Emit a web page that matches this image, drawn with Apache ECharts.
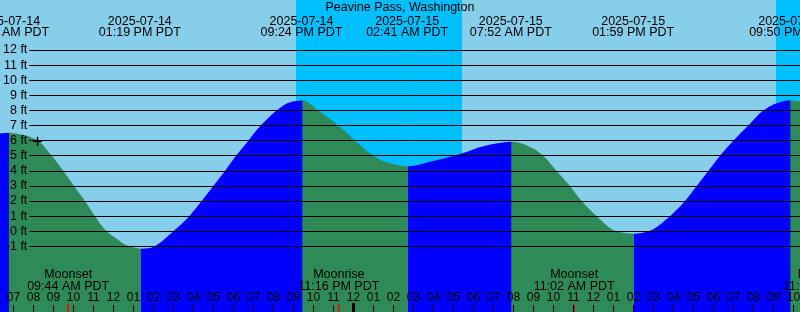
<!DOCTYPE html>
<html><head><meta charset="utf-8">
<script src="https://cdn.jsdelivr.net/npm/echarts@6/dist/echarts.min.js"></script>
<style>html,body{margin:0;padding:0;background:#87CEEB}#c{width:800px;height:312px}</style>
</head><body><div id="c"></div><script>
// Hours counted from 2025-07-14 00:00 PDT
const tideHours = [6.325, 6.775, 7.325, 8.175, 8.908, 9.492, 10.025, 10.575, 11.075, 11.658, 12.158, 12.658, 13.375, 13.825, 14.325, 14.992, 15.792, 16.408, 16.992, 17.575, 18.125, 18.742, 19.358, 20.158, 20.825, 21.458, 22.242, 23.242, 24.075, 24.992, 25.575, 26.325, 26.725, 27.825, 29.41, 30.49, 31.91, 32.99, 33.49, 34.16, 34.825, 35.41, 36.16, 37.16, 38.025, 38.74, 39.825, 40.575, 41.16, 41.74, 42.325, 42.99, 43.74, 44.49, 45.2, 45.86, 46.325];
const tideFeet = [6.48, 6.52, 6.42, 6.05, 5.0, 4.0, 3.0, 2.0, 1.0, 0.0, -0.5, -0.93, -1.15, -1.1, -0.75, 0.0, 1.0, 2.0, 3.0, 4.0, 5.0, 6.0, 7.0, 8.0, 8.55, 8.67, 8.0, 7.0, 6.0, 5.0, 4.6, 4.36, 4.3, 4.6, 5.16, 5.64, 5.93, 5.49, 5.0, 4.0, 3.0, 2.0, 1.0, 0.0, -0.17, 0.0, 1.0, 2.0, 3.0, 4.0, 5.0, 6.0, 7.0, 8.0, 8.5, 8.68, 8.6];

const eventHours = [6.733, 13.317, 21.4, 26.683, 31.867, 37.983, 45.833];
const eventDates = ['2025-07-14', '2025-07-14', '2025-07-14', '2025-07-15', '2025-07-15', '2025-07-15', '2025-07-15'];
const eventTimes = ['06:44 AM PDT', '01:19 PM PDT', '09:24 PM PDT', '02:41 AM PDT', '07:52 AM PDT', '01:59 PM PDT', '09:50 PM PDT'];

const moonHours = [9.733, 23.267, 35.033, 47.5];
const moonNames = ['Moonset', 'Moonrise', 'Moonset', 'Moonrise'];
const moonTimes = ['09:44 AM PDT', '11:16 PM PDT', '11:02 AM PDT', '11:30 PM PDT'];

const nightStart = [21.125, 45.125];
const nightEnd = [29.425, 48];

const hourTicks = [7,8,9,10,11,12,13,14,15,16,17,18,19,20,21,22,23,24,25,26,27,28,29,30,31,32,33,34,35,36,37,38,39,40,41,42,43,44,45,46];
const hourLabels = hourTicks.map(h => { let k = h % 12; if (k === 0) k = 12; return (k < 10 ? '0' : '') + k; });
const midnightHours = [24];

const nowMark = [[8.2, 5.96]];
const feetTicks = [-1, 12];

const FONT = '"Liberation Sans", Arial, sans-serif';
const SKY = '#87CEEB', NIGHT = '#00BFFF', RISE = '#0000FF', FALL = '#2E8B57';

// split tide readings into rising / falling runs
const segments = [];
let cur = [[tideHours[0], tideFeet[0]]];
let dir = Math.sign(tideFeet[1] - tideFeet[0]);
for (let i = 1; i < tideHours.length; i++) {
  const d = Math.sign(tideFeet[i] - tideFeet[i - 1]);
  if (d !== dir) { segments.push({ dir, pts: cur }); cur = [[tideHours[i - 1], tideFeet[i - 1]]]; dir = d; }
  cur.push([tideHours[i], tideFeet[i]]);
}
segments.push({ dir, pts: cur });
const firstH = tideHours[0], lastH = tideHours[tideHours.length - 1];

// smooth monotone path through the pixel positions given by the axes
function tidePath(P, bottom, flatStart, flatEnd) {
  const n = P.length;
  const h = [], d = [];
  for (let k = 0; k < n - 1; k++) { h.push(P[k + 1][0] - P[k][0]); d.push((P[k + 1][1] - P[k][1]) / h[k]); }
  const m = new Array(n);
  m[0] = flatStart ? 0 : d[0];
  m[n - 1] = flatEnd ? 0 : d[n - 2];
  for (let k = 1; k < n - 1; k++) {
    if (d[k - 1] * d[k] <= 0) m[k] = 0;
    else m[k] = 3 * (h[k - 1] + h[k]) / ((2 * h[k] + h[k - 1]) / d[k - 1] + (h[k] + 2 * h[k - 1]) / d[k]);
  }
  let s = 'M' + P[0][0] + ' ' + P[0][1];
  for (let k = 0; k < n - 1; k++) {
    const t = h[k] / 3;
    s += ' C' + (P[k][0] + t) + ' ' + (P[k][1] + m[k] * t) + ' ' + (P[k + 1][0] - t) + ' ' + (P[k + 1][1] - m[k + 1] * t) + ' ' + P[k + 1][0] + ' ' + P[k + 1][1];
  }
  s += ' L' + P[n - 1][0] + ' ' + bottom + ' L' + P[0][0] + ' ' + bottom + ' Z';
  return s;
}

const chart = echarts.init(document.getElementById('c'), null, { renderer: 'canvas' });
const xc = (api, h) => api.coord([h, 0])[0];

chart.setOption({
  animation: false,
  backgroundColor: SKY,
  grid: [
    { left: 0, right: 0, top: 0, bottom: 0 },
    { left: 29, right: 0, top: 50, height: 196.3 }
  ],
  xAxis: [
    { type: 'value', min: 6.325, max: 46.325, show: false },
    { type: 'value', gridIndex: 1, min: 0, max: 1, show: false }
  ],
  yAxis: [
    { type: 'value', min: -5.344, max: 15.318, show: false },
    { type: 'value', gridIndex: 1, min: feetTicks[0], max: feetTicks[1], interval: 1, z: 5,
      axisLine: { show: false }, axisTick: { show: false },
      splitLine: { show: true, lineStyle: { color: '#000', width: 1 } },
      axisLabel: { formatter: '{value} ft', color: '#000', fontSize: 12.5, fontFamily: FONT, margin: 2 } }
  ],
  title: { text: 'Peavine Pass, Washington', left: 'center', top: 1, padding: 0,
    textStyle: { fontSize: 12.5, fontWeight: 'normal', color: '#000', fontFamily: FONT, lineHeight: 13 } },
  series: [
    { type: 'custom', z: 1, silent: true,
      data: nightStart.map((s, i) => [s, nightEnd[i]]),
      renderItem: (params, api) => {
        const x1 = xc(api, api.value(0)), x2 = xc(api, api.value(1));
        return { type: 'rect', shape: { x: x1, y: params.coordSys.y, width: x2 - x1, height: params.coordSys.height }, style: { fill: NIGHT } };
      } },
    { type: 'custom', z: 2, silent: true,
      data: segments.map((s, i) => [s.pts[0][0], i]),
      renderItem: (params, api) => {
        const seg = segments[api.value(1)];
        const P = seg.pts.map(p => api.coord(p));
        const bottom = params.coordSys.y + params.coordSys.height;
        const path = tidePath(P, bottom, seg.pts[0][0] !== firstH, seg.pts[seg.pts.length - 1][0] !== lastH);
        return { type: 'path', shape: { pathData: path }, style: { fill: seg.dir > 0 ? RISE : FALL, stroke: null } };
      } },
    { type: 'line', xAxisIndex: 1, yAxisIndex: 1, data: [] },
    { type: 'custom', z: 6, silent: true,
      data: eventHours.map((h, i) => [h, i]),
      renderItem: (params, api) => {
        const x = xc(api, api.value(0)), i = api.value(1);
        return { type: 'group', children: [
          { type: 'text', style: { text: eventDates[i], x: x, y: 21.2, align: 'center', verticalAlign: 'middle', font: '12.5px ' + FONT, fill: '#000' } },
          { type: 'text', style: { text: eventTimes[i], x: x, y: 32.3, align: 'center', verticalAlign: 'middle', font: '12.5px ' + FONT, fill: '#000' } }
        ] };
      } },
    { type: 'custom', z: 6, silent: true,
      data: moonHours.map((h, i) => [h, i]),
      renderItem: (params, api) => {
        const x = xc(api, api.value(0)), i = api.value(1);
        return { type: 'group', children: [
          { type: 'text', style: { text: moonNames[i], x: x, y: 275, align: 'center', verticalAlign: 'middle', font: '12.5px ' + FONT, fill: '#000' } },
          { type: 'text', style: { text: moonTimes[i], x: x, y: 286.6, align: 'center', verticalAlign: 'middle', font: '12.5px ' + FONT, fill: '#000' } },
          { type: 'line', shape: { x1: x, y1: 304, x2: x, y2: 312 }, style: { stroke: '#FF0000', lineWidth: 1.5 } }
        ] };
      } },
    { type: 'custom', z: 6, silent: true,
      data: hourTicks.map((h, i) => [h, i]),
      renderItem: (params, api) => {
        const x = xc(api, api.value(0)), i = api.value(1);
        return { type: 'group', children: [
          { type: 'line', shape: { x1: x, y1: 305, x2: x, y2: 312 }, style: { stroke: '#000', lineWidth: 1 } },
          { type: 'text', style: { text: hourLabels[i], x: x, y: 297.3, align: 'center', verticalAlign: 'middle', font: '12px ' + FONT, fill: '#000' } }
        ] };
      } },
    { type: 'custom', z: 7, silent: true,
      data: midnightHours.map(h => [h]),
      renderItem: (params, api) => {
        const x = xc(api, api.value(0));
        return { type: 'line', shape: { x1: x, y1: 303, x2: x, y2: 312 }, style: { stroke: '#000', lineWidth: 3 } };
      } },
    { type: 'custom', z: 7, silent: true,
      data: nowMark,
      renderItem: (params, api) => {
        const p = api.coord([api.value(0), api.value(1)]);
        return { type: 'group', children: [
          { type: 'line', shape: { x1: p[0] - 4.5, y1: p[1], x2: p[0] + 4.5, y2: p[1] }, style: { stroke: '#000', lineWidth: 1.5 } },
          { type: 'line', shape: { x1: p[0], y1: p[1] - 4.5, x2: p[0], y2: p[1] + 4.5 }, style: { stroke: '#000', lineWidth: 1.5 } }
        ] };
      } }
  ]
});
</script></body></html>
